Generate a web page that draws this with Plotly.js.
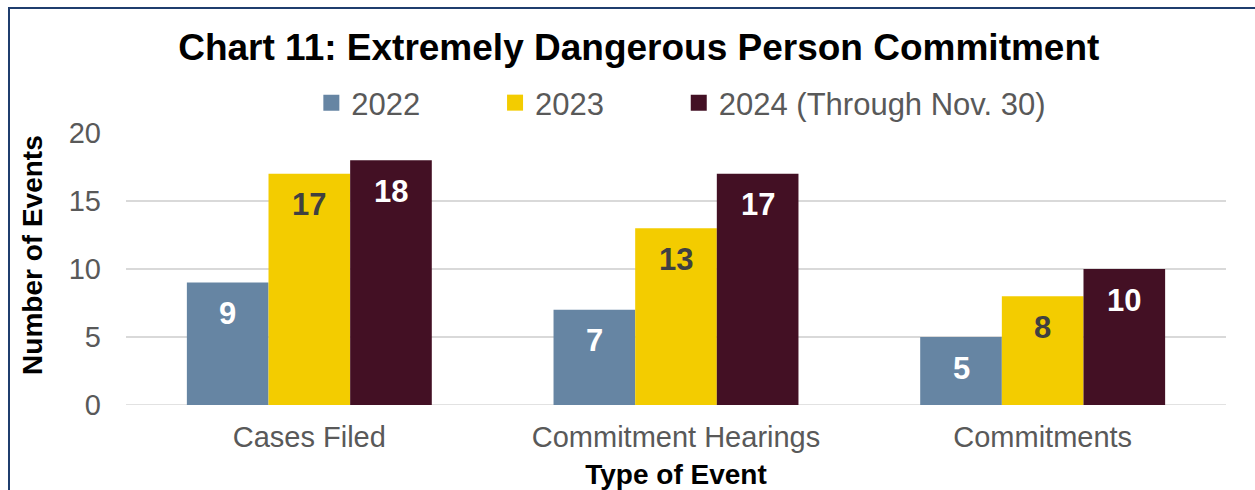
<!DOCTYPE html>
<html><head><meta charset="utf-8">
<script src="https://cdn.plot.ly/plotly-3.0.1.min.js"></script>
<style>
html,body{margin:0;padding:0;overflow:hidden;background:#fff}
#frame{position:absolute;left:8px;top:7px;width:2000px;height:1000px;border-left:2px solid #1F3D6E;border-top:2px solid #1F3D6E;pointer-events:none;z-index:10}
</style></head><body>
<div id="chart" style="width:1255px;height:490px"></div>
<div id="frame"></div>
<script>
const categories = ['Cases Filed', 'Commitment Hearings', 'Commitments'];
const seriesNames = ['2022', '2023', '2024 (Through Nov. 30)'];
const values2022 = [9, 7, 5];
const values2023 = [17, 13, 8];
const values2024 = [18, 17, 10];
const yTickValues = [0, 5, 10, 15, 20];

const seriesValues = [values2022, values2023, values2024];
const colors = ['#6685A3', '#F3CC00', '#431024'];
const labelColors = ['#FFFFFF', '#404040', '#FFFFFF'];
const FONT = 'Liberation Sans, Arial, sans-serif';

const W = 1255, margin = {l: 126, r: 29, t: 133, b: 85};
const bargap = 0.332;
const plotW = W - margin.l - margin.r;
const barW = plotW / categories.length * (1 - bargap) / seriesNames.length;
const legendIds = ['legend', 'legend2', 'legend3'];
const legendX = [0.1685, 0.3355, 0.5025];

const traces = [];
seriesValues.forEach((vals, i) => {
  traces.push({
    type: 'bar', x: categories, y: vals, name: seriesNames[i],
    marker: {color: colors[i], line: {width: 0}},
    showlegend: false, hoverinfo: 'skip'
  });
});
seriesValues.forEach((vals, i) => {
  traces.push({
    type: 'scatter', mode: 'markers', x: [null], y: [null], name: seriesNames[i],
    marker: {symbol: 'square', size: 16, color: colors[i]},
    showlegend: true, hoverinfo: 'skip', legend: legendIds[i]
  });
});

const annotations = [];
seriesValues.forEach((vals, i) => {
  vals.forEach((v, j) => {
    annotations.push({
      x: categories[j], y: v, xref: 'x', yref: 'y', text: String(v), showarrow: false,
      xanchor: 'center', yanchor: 'middle', yshift: -31, xshift: (i - 1) * barW,
      font: {family: FONT, size: 31, color: labelColors[i], weight: 'bold'}
    });
  });
});
annotations.push({
  xref: 'paper', yref: 'paper', x: -0.085, y: 0.55, xanchor: 'center', yanchor: 'middle',
  text: '<b>Number of Events</b>', textangle: -90, showarrow: false,
  font: {family: FONT, size: 28, color: '#000000'}
});

function legendCfg(x) {
  return {orientation: 'h', x: x, xanchor: 'left', y: 1 - 103 / 490, yref: 'container', yanchor: 'middle',
          font: {family: FONT, size: 31, color: '#595959'}, bgcolor: 'rgba(0,0,0,0)', itemclick: false};
}

const layout = {
  width: W, height: 490, margin: margin,
  paper_bgcolor: '#FFFFFF', plot_bgcolor: '#FFFFFF',
  font: {family: FONT, color: '#595959'},
  title: {text: '<b>Chart 11: Extremely Dangerous Person Commitment</b>', x: 0.509, xanchor: 'center',
          y: 1 - 47 / 490, yanchor: 'middle', yref: 'container',
          font: {family: FONT, size: 37, color: '#000000'}},
  barmode: 'group', bargap: bargap, bargroupgap: 0,
  showlegend: true,
  legend: legendCfg(legendX[0]),
  legend2: legendCfg(legendX[1]),
  legend3: legendCfg(legendX[2]),
  xaxis: {type: 'category', showgrid: false, zeroline: false, showline: false, ticks: '',
          tickfont: {family: FONT, size: 29, color: '#595959'}, ticklabelstandoff: 12,
          title: {text: '<b>Type of Event</b>', font: {family: FONT, size: 28, color: '#000000'}, standoff: 14}},
  yaxis: {range: [0, 20], tickvals: yTickValues, showgrid: true, gridcolor: '#D9D9D9', gridwidth: 1.5,
          zeroline: false, showline: false, ticks: '', ticklabelstandoff: 24,
          tickfont: {family: FONT, size: 29, color: '#595959'}},
  shapes: [{type: 'line', xref: 'paper', yref: 'y', x0: 0, x1: 1, y0: 0, y1: 0, line: {color: '#D9D9D9', width: 1.5}, layer: 'below'}],
  annotations: annotations
};

Plotly.newPlot('chart', traces, layout, {displayModeBar: false, staticPlot: true});
</script>
</body></html>
